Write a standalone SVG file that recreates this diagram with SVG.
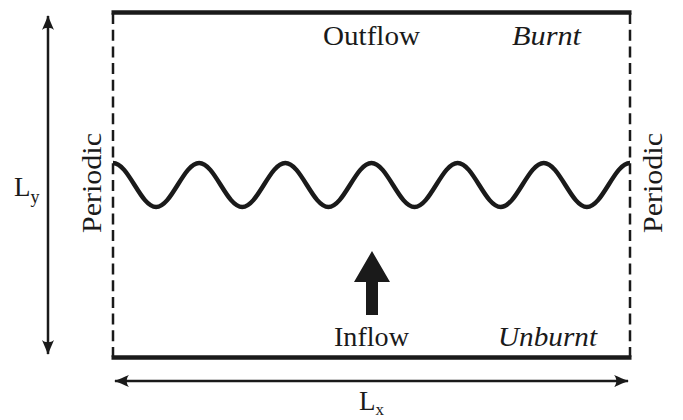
<svg xmlns="http://www.w3.org/2000/svg" width="683" height="420" viewBox="0 0 683 420">
<style>
.t{font-size:27px;fill:#1a1a1a}
.i{font-style:italic}
.thick{stroke:#1a1a1a;stroke-width:4.5;fill:none}
.dash{stroke:#1a1a1a;stroke-width:2.5;fill:none;stroke-dasharray:11 5.7}
.dim{stroke:#1a1a1a;stroke-width:2.5;fill:none}
</style>
<defs>
<marker id="ah" markerUnits="userSpaceOnUse" viewBox="-15 -8 17 16" refX="0" refY="0" markerWidth="17" markerHeight="16" orient="auto-start-reverse">
<path d="M1,0 C-4,-1.5 -9,-4 -14,-6 C-11,-3 -11,3 -14,6 C-9,4 -4,1.5 1,0 Z" fill="#1a1a1a"/>
</marker>
</defs>
<g id="domain">
<line class="thick" x1="111.5" y1="12.5" x2="631.5" y2="12.5"/>
<line class="thick" x1="111.5" y1="357.5" x2="631.5" y2="357.5"/>
<line class="dash" x1="113" y1="13" x2="113" y2="357"/>
<line class="dash" x1="630" y1="13" x2="630" y2="357"/>
</g>
<g id="flame">
<path class="thick" d="M113,163 c15.66,0 27.42,44 43.08,44 c15.66,0 27.42,-44 43.08,-44 c15.66,0 27.42,44 43.08,44 c15.66,0 27.42,-44 43.08,-44 c15.66,0 27.42,44 43.08,44 c15.66,0 27.42,-44 43.08,-44 c15.66,0 27.42,44 43.08,44 c15.66,0 27.42,-44 43.08,-44 c15.66,0 27.42,44 43.08,44 c15.66,0 27.42,-44 43.08,-44 c15.66,0 27.42,44 43.08,44 c15.66,0 27.42,-44 43.08,-44"/>
</g>
<g id="flow-arrow">
<path d="M372,251 L390,282 L378,282 L378,315 L366,315 L366,282 L354,282 Z" fill="#1a1a1a"/>
</g>
<g id="connectors">
<line class="dim" x1="48" y1="16" x2="48" y2="354" marker-start="url(#ah)" marker-end="url(#ah)"/>
<line class="dim" x1="115" y1="381" x2="628" y2="381" marker-start="url(#ah)" marker-end="url(#ah)"/>
</g>
<g id="labels" font-family="Liberation Serif, Times New Roman, serif">
<text class="t" x="323" y="45" textLength="97" lengthAdjust="spacingAndGlyphs">Outflow</text>
<text class="t i" x="512" y="45" textLength="69" lengthAdjust="spacingAndGlyphs">Burnt</text>
<text class="t" x="334" y="346" textLength="75" lengthAdjust="spacingAndGlyphs">Inflow</text>
<text class="t i" x="498" y="346" textLength="99" lengthAdjust="spacingAndGlyphs">Unburnt</text>
<text class="t" transform="translate(101,233) rotate(-90)" textLength="100" lengthAdjust="spacingAndGlyphs">Periodic</text>
<text class="t" transform="translate(662,233) rotate(-90)" textLength="100" lengthAdjust="spacingAndGlyphs">Periodic</text>
<text class="t" x="14" y="196" font-size="28">L<tspan font-size="18" dy="7">y</tspan></text>
<text class="t" x="359" y="410" font-size="28">L<tspan font-size="17" dy="5">x</tspan></text>
</g>
</svg>
